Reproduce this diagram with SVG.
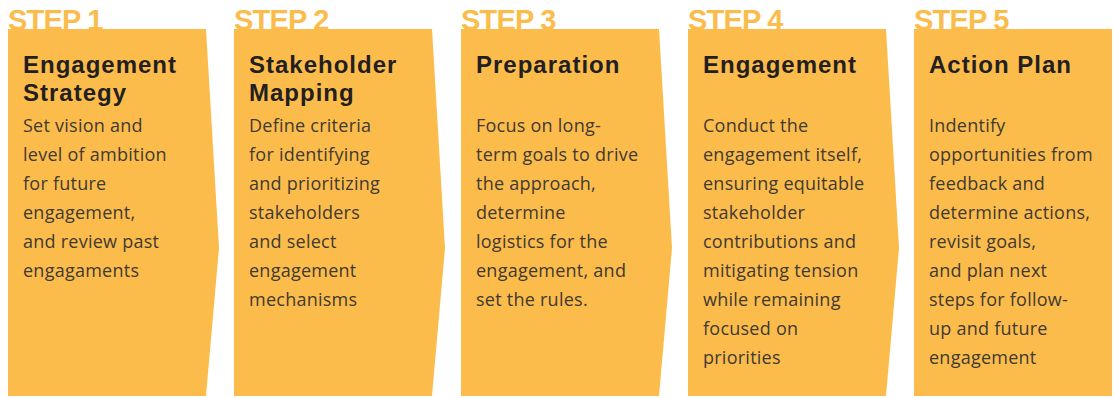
<svg xmlns="http://www.w3.org/2000/svg" width="1114" height="398" viewBox="0 0 1114 398">
<style>
.panel{fill:#FCBC4C}
.step{font-family:"Liberation Sans",Arial,sans-serif;font-weight:bold;font-size:29px;fill:#FCBC4C;letter-spacing:-0.8px}
.title{font-family:"Liberation Sans",Arial,sans-serif;font-weight:bold;font-size:24px;fill:#231F20;letter-spacing:1px}
.body{font-family:"Open Sans","Liberation Sans",sans-serif;font-size:18px;fill:#403A33;letter-spacing:0.25px}
</style>
<rect width="1114" height="398" fill="#ffffff"/>
<g id="step1">
<text class="step" x="8" y="29.5">STEP 1</text>
<polygon class="panel" points="8,29 206,29 219,248 206,396 8,396"/>
<text class="title" x="23" y="73">Engagement</text>
<text class="title" x="23" y="101">Strategy</text>
<text class="body" x="23"><tspan x="23" y="132">Set vision and</tspan><tspan x="23" y="161">level of ambition</tspan><tspan x="23" y="190">for future</tspan><tspan x="23" y="219">engagement,</tspan><tspan x="23" y="248">and review past</tspan><tspan x="23" y="277">engagaments</tspan></text>
</g>
<g id="step2">
<text class="step" x="234" y="29.5">STEP 2</text>
<polygon class="panel" points="234,29 432,29 445,248 432,396 234,396"/>
<text class="title" x="249" y="73">Stakeholder</text>
<text class="title" x="249" y="101">Mapping</text>
<text class="body"><tspan x="249" y="132">Define criteria</tspan><tspan x="249" y="161">for identifying</tspan><tspan x="249" y="190">and prioritizing</tspan><tspan x="249" y="219">stakeholders</tspan><tspan x="249" y="248">and select</tspan><tspan x="249" y="277">engagement</tspan><tspan x="249" y="306">mechanisms</tspan></text>
</g>
<g id="step3">
<text class="step" x="461" y="29.5">STEP 3</text>
<polygon class="panel" points="461,29 659,29 672,248 659,396 461,396"/>
<text class="title" x="476" y="73">Preparation</text>
<text class="body"><tspan x="476" y="132">Focus on long-</tspan><tspan x="476" y="161">term goals to drive</tspan><tspan x="476" y="190">the approach,</tspan><tspan x="476" y="219">determine</tspan><tspan x="476" y="248">logistics for the</tspan><tspan x="476" y="277">engagement, and</tspan><tspan x="476" y="306">set the rules.</tspan></text>
</g>
<g id="step4">
<text class="step" x="688" y="29.5">STEP 4</text>
<polygon class="panel" points="688,29 886,29 899,248 886,396 688,396"/>
<text class="title" x="703" y="73">Engagement</text>
<text class="body"><tspan x="703" y="132">Conduct the</tspan><tspan x="703" y="161">engagement itself,</tspan><tspan x="703" y="190">ensuring equitable</tspan><tspan x="703" y="219">stakeholder</tspan><tspan x="703" y="248">contributions and</tspan><tspan x="703" y="277">mitigating tension</tspan><tspan x="703" y="306">while remaining</tspan><tspan x="703" y="335">focused on</tspan><tspan x="703" y="364">priorities</tspan></text>
</g>
<g id="step5">
<text class="step" x="914" y="29.5">STEP 5</text>
<rect class="panel" x="914" y="29" width="198" height="367"/>
<text class="title" x="929" y="73">Action Plan</text>
<text class="body"><tspan x="929" y="132">Indentify</tspan><tspan x="929" y="161">opportunities from</tspan><tspan x="929" y="190">feedback and</tspan><tspan x="929" y="219">determine actions,</tspan><tspan x="929" y="248">revisit goals,</tspan><tspan x="929" y="277">and plan next</tspan><tspan x="929" y="306">steps for follow-</tspan><tspan x="929" y="335">up and future</tspan><tspan x="929" y="364">engagement</tspan></text>
</g>
<g id="connectors"></g>
</svg>
